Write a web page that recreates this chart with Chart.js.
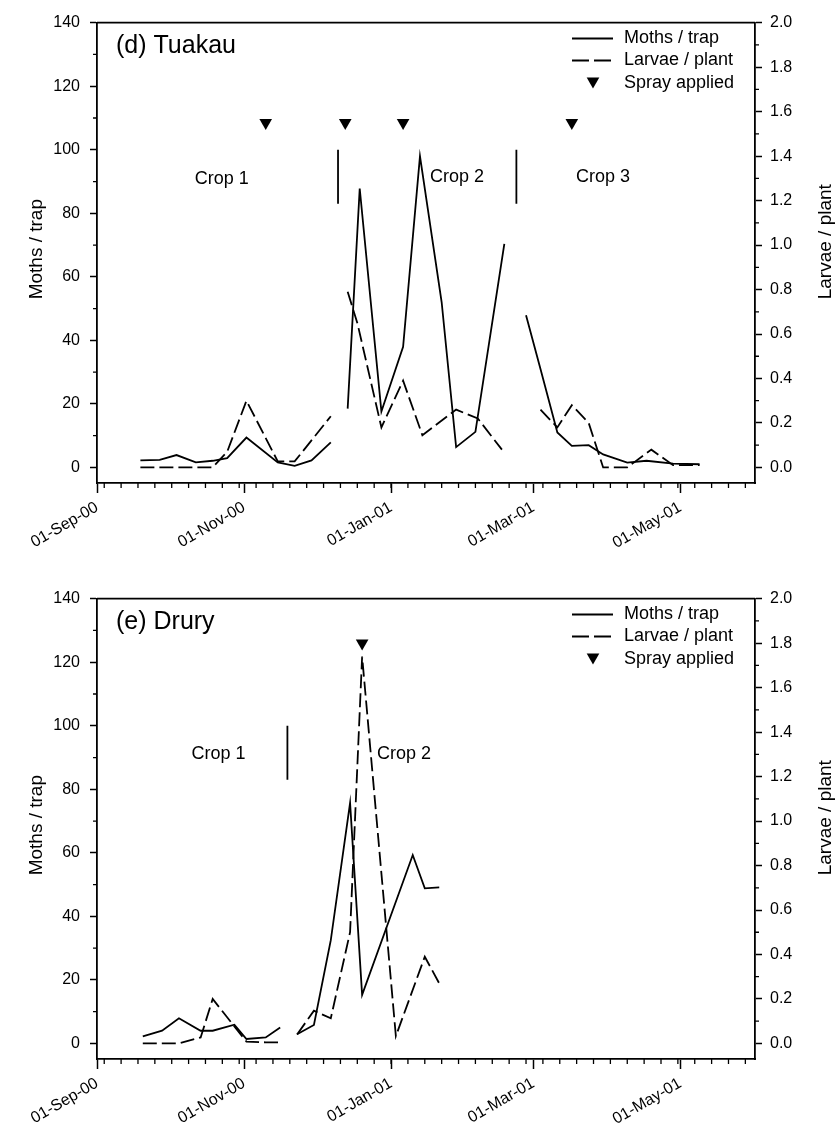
<!DOCTYPE html>
<html><head><meta charset="utf-8">
<script src="https://cdn.jsdelivr.net/npm/chart.js@4.4.1/dist/chart.umd.min.js"></script>
<style>
html,body{margin:0;padding:0;background:#fff;}
#wrap{position:relative;width:840px;height:1130px;background:#fff;}
canvas{position:absolute;left:0;}
</style></head><body>
<div id="wrap">
<canvas id="c1" width="840" height="576" style="top:0px"></canvas>
<canvas id="c2" width="840" height="554" style="top:576px"></canvas>
</div>
<script>
// ---------- axis ticks ----------
const xTickDates  = ['2000-09-01','2000-11-01','2001-01-01','2001-03-01','2001-05-01'];
const xTickLabels = ['01-Sep-00','01-Nov-00','01-Jan-01','01-Mar-01','01-May-01'];
const mothTicks   = [0,20,40,60,80,100,120,140];
const larvaeTicks = [0,0.2,0.4,0.6,0.8,1.0,1.2,1.4,1.6,1.8,2.0];

// ---------- (d) Tuakau ----------  (null = gap between crops)
const tuakauMothDates = ['2000-09-19','2000-09-27','2000-10-04','2000-10-12','2000-10-19','2000-10-25','2000-11-02','2000-11-15','2000-11-22','2000-11-29','2000-12-07',
  '2000-12-10',
  '2000-12-14','2000-12-19','2000-12-28','2001-01-06','2001-01-13','2001-01-22','2001-01-28','2001-02-05','2001-02-17',
  '2001-02-22',
  '2001-02-26','2001-03-04','2001-03-11','2001-03-17','2001-03-24','2001-03-30','2001-04-09','2001-04-17','2001-04-28','2001-05-09'];
const tuakauMoths = [2.2,2.4,3.9,1.6,2.1,2.9,9.4,1.6,0.5,2.2,7.9,
  null,
  18.5,87.8,17.6,38,98,52,6.4,11.2,70.4,
  null,
  47.9,31.0,11.0,6.8,7.0,4.1,1.5,2.1,1.2,1.0];
const tuakauLarvaeDates = ['2000-09-19','2000-09-27','2000-10-04','2000-10-12','2000-10-19','2000-10-25','2000-11-02','2000-11-15','2000-11-22','2000-12-07',
  '2000-12-10',
  '2000-12-14','2000-12-18','2000-12-28','2001-01-06','2001-01-14','2001-01-28','2001-02-06','2001-02-16',
  '2001-02-22',
  '2001-03-04','2001-03-11','2001-03-17','2001-03-24','2001-03-30','2001-04-09','2001-04-19','2001-04-28','2001-05-09'];
const tuakauLarvae = [0,0,0,0,0,0.07,0.30,0.027,0.027,0.23,
  null,
  0.79,0.65,0.18,0.39,0.145,0.26,0.22,0.08,
  null,
  0.26,0.18,0.28,0.20,0.0,0.0,0.08,0.01,0.01];
const tuakauSprayDates = ['2000-11-10','2000-12-13','2001-01-06','2001-03-17'];
const tuakauSprayLevel = [1.55,1.55,1.55,1.55];
const tuakauCropBreaks = ['2000-12-10','2001-02-22'];

// ---------- (e) Drury ----------
const druryMothDates = ['2000-09-20','2000-09-28','2000-10-05','2000-10-14','2000-10-19','2000-10-28','2000-11-02','2000-11-10','2000-11-16',
  '2000-11-19',
  '2000-11-23','2000-11-30','2000-12-07','2000-12-15','2000-12-20','2001-01-10','2001-01-15','2001-01-21'];
const druryMoths = [2.2,4.0,7.9,4.0,4.0,5.9,1.4,1.9,5.0,
  null,
  2.9,5.8,32.5,75.7,15.3,59.3,48.8,49.1];
const druryLarvaeDates = ['2000-09-20','2000-09-28','2000-10-05','2000-10-14','2000-10-19','2000-11-02','2000-11-10','2000-11-16',
  '2000-11-19',
  '2000-11-23','2000-11-30','2000-12-07','2000-12-15','2000-12-20','2001-01-03','2001-01-15','2001-01-21'];
const druryLarvae = [0,0,0,0.027,0.2,0.008,0.005,0.005,
  null,
  0.04,0.147,0.113,0.5,1.74,0.033,0.39,0.27];
const drurySprayDates = ['2000-12-20'];
const drurySprayLevel = [1.8];
const druryCropBreaks = ['2000-11-19'];

// ---------- helpers ----------
const DAY0 = Date.UTC(2000,8,1);
function dayOf(s){ const p = s.split('-').map(Number); return (Date.UTC(p[0],p[1]-1,p[2]) - DAY0)/86400000; }
function pts(dates, vals){ return dates.map((d,i)=>({x:dayOf(d), y:vals[i]})); }

const FONT = "'Liberation Sans', Arial, sans-serif";
Chart.defaults.font.family = FONT;
Chart.defaults.color = '#000';

const decor = {
  id: 'decor',
  afterDraw(chart, args, o) {
    const ctx = chart.ctx, ca = chart.chartArea;
    const xs = chart.scales.x, ys = chart.scales.y, y1 = chart.scales.y1;
    ctx.save();
    ctx.strokeStyle = '#000';
    ctx.lineWidth = 1.8;
    ctx.beginPath(); ctx.moveTo(ca.left, ca.top); ctx.lineTo(ca.right, ca.top); ctx.stroke();
    // minor ticks
    ctx.lineWidth = 1.3;
    ctx.beginPath();
    for (let v = 10; v < 140; v += 20) { const p = ys.getPixelForValue(v); ctx.moveTo(ca.left, p); ctx.lineTo(ca.left - 4, p); }
    for (let k = 0; k < 10; k++) { const p = y1.getPixelForValue(0.1 + 0.2*k); ctx.moveTo(ca.right, p); ctx.lineTo(ca.right + 4, p); }
    for (let d = 3; d < 273; d += 7) { const p = xs.getPixelForValue(d); ctx.moveTo(p, ca.bottom); ctx.lineTo(p, ca.bottom + 5); }
    ctx.stroke();
    ctx.fillStyle = '#000';
    // panel title
    ctx.font = '25px ' + FONT;
    ctx.textAlign = 'left'; ctx.textBaseline = 'middle';
    ctx.fillText(o.title, ca.left + 19, ca.top + 23.5);
    // crop labels
    ctx.font = '18px ' + FONT; ctx.textAlign = 'center';
    o.crops.forEach(c => ctx.fillText(c.text, xs.getPixelForValue(c.day), ys.getPixelForValue(c.val)));
    // axis titles (both read bottom-to-top)
    ctx.font = '19px ' + FONT;
    ctx.save(); ctx.translate(36.5, ca.top + 226.5); ctx.rotate(-Math.PI/2); ctx.fillText('Moths / trap', 0, 0); ctx.restore();
    ctx.save(); ctx.translate(826, ca.top + 219); ctx.rotate(-Math.PI/2); ctx.fillText('Larvae / plant', 0, 0); ctx.restore();
    // legend
    const rows = [15.8, 37.8, 60.2];
    ctx.font = '18px ' + FONT; ctx.textAlign = 'left';
    ctx.lineWidth = 1.8;
    ctx.beginPath(); ctx.moveTo(ca.right - 183, ca.top + rows[0]); ctx.lineTo(ca.right - 142, ca.top + rows[0]); ctx.stroke();
    ctx.setLineDash([17, 5]);
    ctx.beginPath(); ctx.moveTo(ca.right - 183, ca.top + rows[1]); ctx.lineTo(ca.right - 142, ca.top + rows[1]); ctx.stroke();
    ctx.setLineDash([]);
    const tx = ca.right - 162, ty = ca.top + rows[2], r = 7.3;
    ctx.beginPath();
    ctx.moveTo(tx, ty + r*0.75); ctx.lineTo(tx - r*0.866, ty - r*0.75); ctx.lineTo(tx + r*0.866, ty - r*0.75); ctx.closePath(); ctx.fill();
    ctx.fillText('Moths / trap', ca.right - 131, ca.top + rows[0]);
    ctx.fillText('Larvae / plant', ca.right - 131, ca.top + rows[1]);
    ctx.fillText('Spray applied', ca.right - 131, ca.top + rows[2]);
    ctx.restore();
  }
};

function makeChart(id, mothDates, moths, larvaeDates, larvae, sprayDates, sprayLevel, breaks, title, crops) {
  const datasets = [
    { data: pts(mothDates, moths), yAxisID: 'y', borderColor: '#000', borderWidth: 1.8, pointRadius: 0, tension: 0, spanGaps: false, fill: false },
    { data: pts(larvaeDates, larvae), yAxisID: 'y1', borderColor: '#000', borderWidth: 1.8, borderDash: [14, 5], pointRadius: 0, tension: 0, spanGaps: false, fill: false },
    { data: pts(sprayDates, sprayLevel), yAxisID: 'y1', showLine: false, pointStyle: 'triangle', rotation: 180, pointRadius: 7.3, backgroundColor: '#000', borderColor: '#000', borderWidth: 0, clip: false }
  ];
  breaks.forEach(b => datasets.push({ data: [{x: dayOf(b), y: 83}, {x: dayOf(b), y: 100}], yAxisID: 'y', borderColor: '#000', borderWidth: 1.8, pointRadius: 0 }));
  const H = document.getElementById(id).height;
  return new Chart(document.getElementById(id), {
    type: 'line',
    data: { datasets },
    options: {
      responsive: false, animation: false, devicePixelRatio: 1,
      layout: { padding: { top: 22.7, left: 0, right: 0, bottom: 0 } },
      plugins: { legend: { display: false }, tooltip: { enabled: false }, decor: { title, crops } },
      scales: {
        x: {
          type: 'linear', position: 'bottom', min: 0, max: 273,
          afterBuildTicks: s => { s.ticks = xTickDates.map(d => ({ value: dayOf(d) })); },
          afterFit: s => { s.height = H - 483; },
          ticks: { autoSkip: false, minRotation: 30, maxRotation: 30, padding: 5, font: { size: 16 }, color: '#000',
                   callback: (v, i) => xTickLabels[i] },
          grid: { drawOnChartArea: false, drawTicks: true, tickLength: 10, tickWidth: 1.5, tickColor: '#000' },
          border: { display: true, color: '#000', width: 1.8 }
        },
        y: {
          type: 'linear', position: 'left', min: -4.9, max: 140,
          afterBuildTicks: s => { s.ticks = mothTicks.map(v => ({ value: v })); },
          afterFit: s => { s.width = 97; },
          ticks: { padding: 10, font: { size: 16 }, color: '#000', callback: v => String(v) },
          grid: { drawOnChartArea: false, drawTicks: true, tickLength: 7, tickWidth: 1.5, tickColor: '#000' },
          border: { display: true, color: '#000', width: 1.8 }
        },
        y1: {
          type: 'linear', position: 'right', min: -0.07, max: 2.0,
          afterBuildTicks: s => { s.ticks = larvaeTicks.map(v => ({ value: v })); },
          afterFit: s => { s.width = 85; },
          ticks: { padding: 8, font: { size: 16 }, color: '#000', callback: v => Number(v).toFixed(1) },
          grid: { drawOnChartArea: false, drawTicks: true, tickLength: 7, tickWidth: 1.5, tickColor: '#000' },
          border: { display: true, color: '#000', width: 1.8 }
        }
      }
    },
    plugins: [decor]
  });
}

makeChart('c1', tuakauMothDates, tuakauMoths, tuakauLarvaeDates, tuakauLarvae, tuakauSprayDates, tuakauSprayLevel, tuakauCropBreaks,
  '(d) Tuakau', [{text:'Crop 1', day:51.8, val:90.8}, {text:'Crop 2', day:149.4, val:91.5}, {text:'Crop 3', day:209.9, val:91.5}]);
makeChart('c2', druryMothDates, druryMoths, druryLarvaeDates, druryLarvae, drurySprayDates, drurySprayLevel, druryCropBreaks,
  '(e) Drury', [{text:'Crop 1', day:50.4, val:91}, {text:'Crop 2', day:127.4, val:91}]);
</script>
</body></html>
